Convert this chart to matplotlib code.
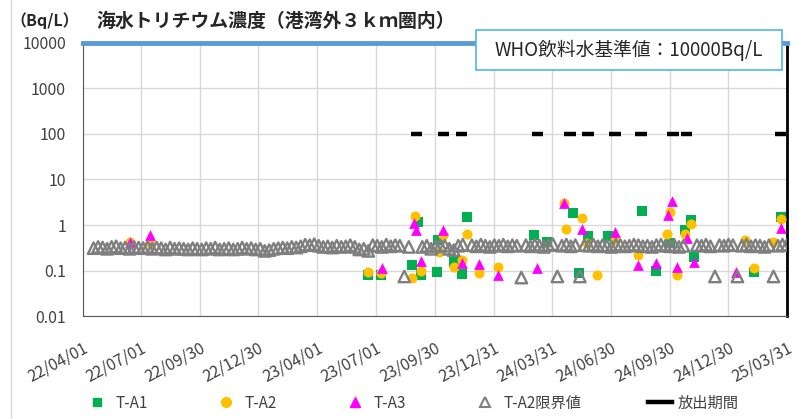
import numpy as np
import pandas as pd
import matplotlib
matplotlib.use("Agg")
import matplotlib.pyplot as plt
from matplotlib.lines import Line2D
from matplotlib.patches import Rectangle
from matplotlib.ticker import NullLocator

plt.rcParams['font.family'] = ['Noto Sans CJK JP', 'DejaVu Sans']

#---------------- data ----------------#

who_limit = 10000  # Bq/L

ta1_dates = ["2023-06-18", "2023-07-09", "2023-08-26", "2023-09-04", "2023-09-09", "2023-10-04",
             "2023-10-06", "2023-10-30", "2023-11-11", "2023-11-19", "2024-03-02", "2024-03-23",
             "2024-05-03", "2024-05-12", "2024-05-26", "2024-06-26", "2024-08-18", "2024-09-08",
             "2024-09-30", "2024-10-24", "2024-11-01", "2024-11-07", "2025-02-07", "2025-03-22"]
ta1_vals = [0.080, 0.080, 0.133, 1.19, 0.080, 0.092,
            0.47, 0.157, 0.083, 1.53, 0.61, 0.43,
            1.87, 0.087, 0.56, 0.56, 2.07, 0.10,
            0.40, 0.78, 1.29, 0.20, 0.095, 1.53]

ta2_dates = ["2022-06-13", "2022-07-14", "2023-06-18", "2023-07-09", "2023-08-26", "2023-08-30",
             "2023-09-09", "2023-10-07", "2023-10-13", "2023-10-30", "2023-11-11", "2023-11-19",
             "2023-12-08", "2024-01-06", "2024-04-18", "2024-04-21", "2024-05-17", "2024-05-24",
             "2024-06-08", "2024-07-07", "2024-08-12", "2024-09-25", "2024-09-30", "2024-10-11",
             "2024-10-24", "2024-11-01", "2025-01-25", "2025-02-07", "2025-03-10", "2025-03-22"]
ta2_vals = [0.43, 0.40, 0.092, 0.088, 0.068, 1.55,
            0.10, 0.26, 0.60, 0.12, 0.17, 0.62,
            0.087, 0.12, 3.0, 0.82, 1.45, 0.40,
            0.08, 0.47, 0.22, 0.62, 1.96, 0.08,
            0.62, 1.03, 0.47, 0.116, 0.43, 1.35]

ta3_dates = ["2022-06-13", "2022-07-14", "2023-07-10", "2023-08-29", "2023-09-02", "2023-09-09",
             "2023-10-13", "2023-11-11", "2023-12-08", "2024-01-06", "2024-03-08", "2024-04-19",
             "2024-05-17", "2024-07-07", "2024-08-12", "2024-09-08", "2024-09-27", "2024-10-04",
             "2024-10-11", "2024-10-27", "2024-11-07", "2025-01-10", "2025-03-21"]
ta3_vals = [0.42, 0.60, 0.112, 1.09, 0.78, 0.16,
            0.78, 0.145, 0.137, 0.08, 0.112, 3.1,
            0.82, 0.71, 0.133, 0.145, 1.66, 3.4,
            0.12, 0.51, 0.157, 0.095, 0.85]

# T-A2 detection limits, weekly samples in four blocks (block start date + values)
lim_a_start = "2022-04-18"
lim_a_vals = [0.31, 0.33, 0.32, 0.30, 0.33, 0.34, 0.31, 0.32, 0.30, 0.33,
              0.32, 0.31, 0.33, 0.30, 0.32, 0.31, 0.29, 0.32, 0.30, 0.31,
              0.30, 0.29, 0.31, 0.30, 0.29, 0.31, 0.30, 0.32, 0.29, 0.30,
              0.31, 0.29, 0.30, 0.32, 0.30, 0.31, 0.29, 0.30,
              0.27, 0.28, 0.30, 0.31,
              0.32, 0.31, 0.33, 0.32, 0.34,
              0.37, 0.36, 0.38, 0.35,
              0.33, 0.34, 0.32, 0.35, 0.33, 0.34, 0.36, 0.33,
              0.29, 0.30, 0.27,
              0.36, 0.35, 0.33, 0.37, 0.34, 0.36, 0.35, 0.074,
              0.33]
lim_b_start = "2023-09-11"
lim_b_vals = [0.33, 0.35, 0.30, 0.34, 0.36, 0.35, 0.30, 0.28, 0.35, 0.37]
lim_c_start = "2023-11-27"
lim_c_vals = [0.36, 0.34, 0.37, 0.35, 0.33, 0.36, 0.35, 0.37, 0.34, 0.36, 0.35,
              0.070,
              0.36, 0.34, 0.37, 0.35, 0.33, 0.36, 0.38,
              0.074,
              0.35, 0.37, 0.34, 0.36,
              0.074,
              0.36, 0.35, 0.37, 0.34, 0.36, 0.35, 0.33, 0.37, 0.36, 0.34, 0.35, 0.37,
              0.36, 0.34, 0.35, 0.33, 0.36, 0.37, 0.35, 0.34, 0.36, 0.33, 0.35]
lim_d_start = "2024-11-11"
lim_d_vals = [0.36, 0.35, 0.37, 0.34, 0.074, 0.36, 0.35, 0.37, 0.36, 0.074,
              0.35, 0.37, 0.34, 0.36, 0.35, 0.33, 0.36, 0.074, 0.35, 0.37, 0.36]

# discharge periods (plotted at 100 Bq/L)
release_level = 100
release_start = ["2023-08-24", "2023-10-05", "2023-11-02", "2024-02-28", "2024-04-19", "2024-05-17",
                 "2024-06-28", "2024-08-07", "2024-09-26", "2024-10-17", "2025-03-12"]
release_end = ["2023-09-11", "2023-10-23", "2023-11-20", "2024-03-17", "2024-05-07", "2024-06-04",
               "2024-07-16", "2024-08-25", "2024-10-14", "2024-11-04", "2025-03-30"]

tick_dates = ["2022-04-01", "2022-07-01", "2022-09-30", "2022-12-30", "2023-04-01", "2023-07-01",
              "2023-09-30", "2023-12-31", "2024-03-31", "2024-06-30", "2024-09-30", "2024-12-30",
              "2025-03-31"]
tick_labels = ["22/04/01", "22/07/01", "22/09/30", "22/12/30", "23/04/01", "23/07/01",
               "23/09/30", "23/12/31", "24/03/31", "24/06/30", "24/09/30", "24/12/30",
               "25/03/31"]

#---------------- build series ----------------#

lim_dates = []
lim_vals = []
for start, vals in [(lim_a_start, lim_a_vals), (lim_b_start, lim_b_vals),
                    (lim_c_start, lim_c_vals), (lim_d_start, lim_d_vals)]:
    lim_dates += list(pd.date_range(start, periods=len(vals), freq="7D"))
    lim_vals += vals

c_green = "#00B050"
c_orange = "#FFC000"
c_magenta = "#FF00FF"
c_gray = "#7F7F7F"
c_blue = "#5B9BD5"
c_text = "#404040"

#---------------- plot ----------------#

fig = plt.figure(figsize=(7.98, 4.19), dpi=100)
ax = fig.add_axes([0.1036, 0.2458, 0.8826, 0.6516])

ax.axhline(who_limit, color=c_blue, lw=3.5, zorder=5, clip_on=False)

ax.scatter(pd.to_datetime(ta1_dates), ta1_vals, marker="s", s=44, color=c_green, lw=0, zorder=3)
ax.scatter(pd.to_datetime(ta2_dates), ta2_vals, marker="o", s=52, color=c_orange, lw=0, zorder=3)
ax.scatter(pd.to_datetime(ta3_dates), ta3_vals, marker="^", s=60, color=c_magenta, lw=0, zorder=3)
ax.scatter(lim_dates, lim_vals, marker="^", s=68, facecolor="none", edgecolor=c_gray, lw=1.7, zorder=4)

for s0, s1 in zip(release_start, release_end):
    ax.plot(pd.to_datetime([s0, s1]), [release_level, release_level], color="black", lw=3.2,
            solid_capstyle="butt", zorder=4)

ax.set_yscale("log")
ax.set_ylim(0.01, 10000)
ax.set_xlim(pd.Timestamp("2022-04-01"), pd.Timestamp("2025-03-31"))
ax.yaxis.set_minor_locator(NullLocator())
ax.set_yticks([0.01, 0.1, 1, 10, 100, 1000, 10000])
ax.set_yticklabels(["0.01", "0.1", "1", "10", "100", "1000", "10000"], fontsize=11.5, color=c_text)
ax.set_xticks(pd.to_datetime(tick_dates))
ax.set_xticklabels(tick_labels, rotation=28, ha="right", va="top", rotation_mode="anchor",
                   fontsize=11.5, color=c_text)
ax.tick_params(axis="y", length=0, pad=12)
ax.tick_params(axis="x", length=0, pad=17)
ax.grid(True, color="#D9D9D9", lw=1)
ax.set_axisbelow(True)

ax.spines["top"].set_visible(False)
ax.spines["left"].set_color("#595959")
ax.spines["bottom"].set_color("#595959")
ax.spines["right"].set_color("black")
ax.spines["right"].set_linewidth(2)

# WHO box
fig.patches.append(Rectangle((476 / 798, 1 - 70 / 419), 306 / 798, 40 / 419, transform=fig.transFigure,
                             facecolor="white", edgecolor="#4FB6E8", lw=1.2, zorder=10))
fig.text(629 / 798, 1 - 50 / 419, "WHO飲料水基準値：10000Bq/L", ha="center", va="center",
         fontsize=13.5, color="#262626", zorder=11)

# titles
fig.text(10 / 798, 1 - 21 / 419, "（Bq/L）", ha="left", va="center", fontsize=11.5,
         fontweight="bold", color="#262626")
fig.text(96 / 798, 1 - 21 / 419, "海水トリチウム濃度（港湾外３ｋｍ圏内）", ha="left", va="center",
         fontsize=13.6, fontweight="bold", color="#262626")

# faint border line on the left
fig.add_artist(Line2D([11 / 798, 11 / 798], [0, 1], transform=fig.transFigure, color="#D9D9D9", lw=1))

handles = [
    Line2D([], [], marker="s", ls="none", color=c_green, markersize=6),
    Line2D([], [], marker="o", ls="none", color=c_orange, markersize=7),
    Line2D([], [], marker="^", ls="none", color=c_magenta, markersize=7),
    Line2D([], [], marker="^", ls="none", markerfacecolor="none", markeredgecolor=c_gray,
           markeredgewidth=1.5, markersize=7),
    Line2D([], [], color="black", lw=3.2),
]
labels = ["T-A1", "T-A2", "T-A3", "T-A2限界値", "放出期間"]
fig.legend(handles, labels, loc="center", bbox_to_anchor=(0.516, 0.038), ncol=5, frameon=False,
           fontsize=11, handlelength=1.6, handletextpad=0.4, columnspacing=4.35, labelcolor=c_text)

fig.savefig("out.png", dpi=100)
